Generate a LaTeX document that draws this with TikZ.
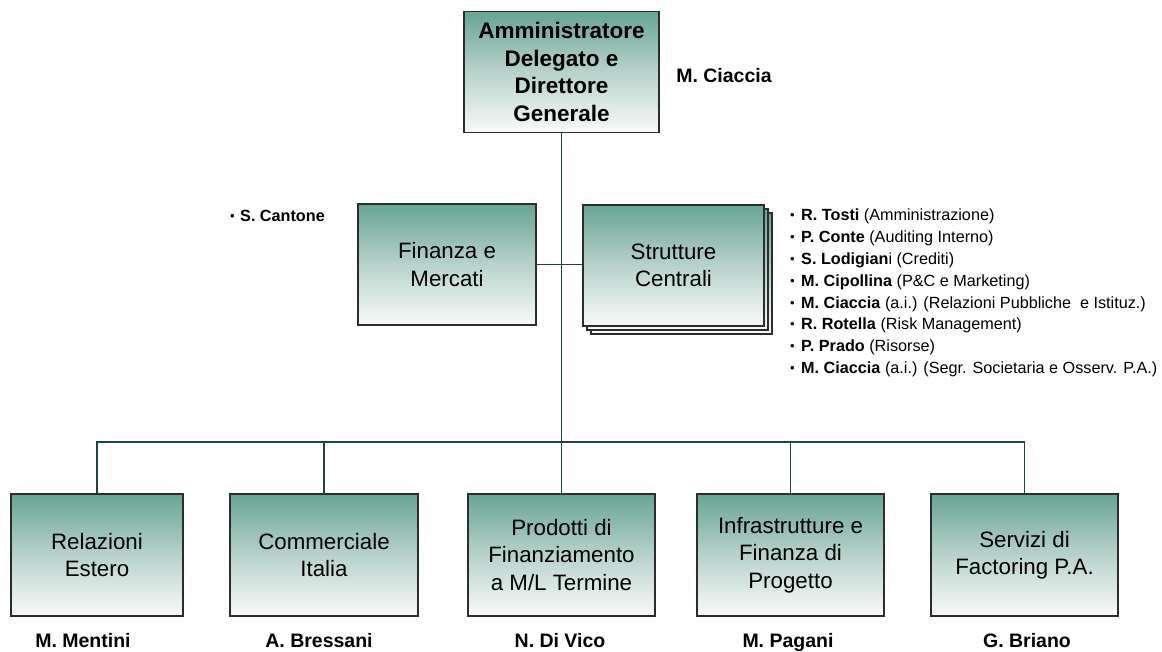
\documentclass[tikz,border=0pt]{standalone}
\usepackage{fontspec}
\setmainfont{Liberation Sans}
\definecolor{tealtop}{RGB}{104,164,148}
\definecolor{tealmid}{RGB}{184,210,203}
\definecolor{tealbot}{RGB}{249,250,250}
\definecolor{boxline}{RGB}{45,45,45}
\definecolor{linecol}{RGB}{30,68,68}
\begin{document}
\begin{tikzpicture}[x=1pt,y=-1pt,
  box/.style={draw=boxline, line width=1.1pt, top color=tealtop, bottom color=tealbot, middle color=tealmid,
    align=center, inner sep=0pt, text=black, font=\fontsize{22.3}{27.5}\selectfont},
  conn/.style={draw=linecol, line width=1.1pt},
  who/.style={font=\bfseries\fontsize{19.5}{22}\selectfont, inner sep=0pt},
  li/.style={font=\fontsize{16.2}{20}\selectfont, inner sep=0pt, anchor=base west},
  bul/.style={font=\fontsize{13}{16}\selectfont, inner sep=0pt, anchor=base west}]
\useasboundingbox (0,0) rectangle (1162,652);
% top
\node[box, minimum width=195pt, minimum height=121pt, font=\bfseries\fontsize{22.5}{27.5}\selectfont] (top) at (561.5,72) {Amministratore\\Delegato e\\Direttore\\Generale};
\node[who, anchor=base] (topname) at (724,83) {M. Ciaccia};
% middle
\node[box, minimum width=178pt, minimum height=121pt] (fin) at (447,264.5) {Finanza e\\Mercati};
\node[bul] (cb) at (230,221) {\textbullet};
\node[li, font=\bfseries\fontsize{16.2}{20}\selectfont] (cantone) at (240,222) {S. Cantone};
\node[box, minimum width=181pt, minimum height=121pt] (s3) at (681.5,273.5) {};
\node[box, minimum width=181pt, minimum height=121pt] (s2) at (677.5,269.5) {};
\node[box, minimum width=181pt, minimum height=121pt] (str) at (673.5,265.5) {Strutture\\Centrali};
% list
\foreach \i/\b/\r in {0/R. Tosti/ (Amministrazione),
  1/P. Conte/ (Auditing Interno),
  2/S. Lodigian/i (Crediti),
  3/M. Cipollina/ (P\&C e Marketing),
  4/M. Ciaccia/ (a.i.) (Relazioni Pubbliche\ \ e Istituz.),
  5/R. Rotella/ (Risk Management),
  6/P. Prado/ (Risorse),
  7/M. Ciaccia/ (a.i.) (Segr. Societaria e Osserv. P.A.)}{
  \node[bul] (lb\i) at (790,{220+21.8*\i}) {\textbullet};
  \node[li] (lt\i) at (801,{221+21.8*\i}) {\textbf{\b}\r};
}
% bottom
\node[box, minimum width=172pt, minimum height=122pt] (b1) at (97,555) {Relazioni\\Estero};
\node[box, minimum width=188pt, minimum height=122pt] (b2) at (324,555) {Commerciale\\Italia};
\node[box, minimum width=187pt, minimum height=122pt] (b3) at (561.5,555) {Prodotti di\\Finanziamento\\a M/L Termine};
\node[box, minimum width=187pt, minimum height=122pt] (b4) at (790.5,555) {Infrastrutture e\\Finanza di\\Progetto};
\node[box, minimum width=187pt, minimum height=122pt] (b5) at (1024.5,555) {Servizi di\\Factoring P.A.};
\node[who, anchor=base] (n1) at (83,647) {M. Mentini};
\node[who, anchor=base] (n2) at (319,647) {A. Bressani};
\node[who, anchor=base] (n3) at (560,647) {N. Di Vico};
\node[who, anchor=base] (n4) at (788,647) {M. Pagani};
\node[who, anchor=base] (n5) at (1027,647) {G. Briano};
% connectors
\coordinate (bus) at (561.5,442);
\draw[conn] (top.south) -- (top.south |- bus);
\draw[conn] (fin.east) -- (fin.east -| str.west);
\draw[conn] (b1.north) -- (b1.north |- bus) -- (b5.north |- bus) -- (b5.north);
\foreach \b in {b2,b3,b4} \draw[conn] (\b.north) -- (\b.north |- bus);
\end{tikzpicture}
\end{document}
